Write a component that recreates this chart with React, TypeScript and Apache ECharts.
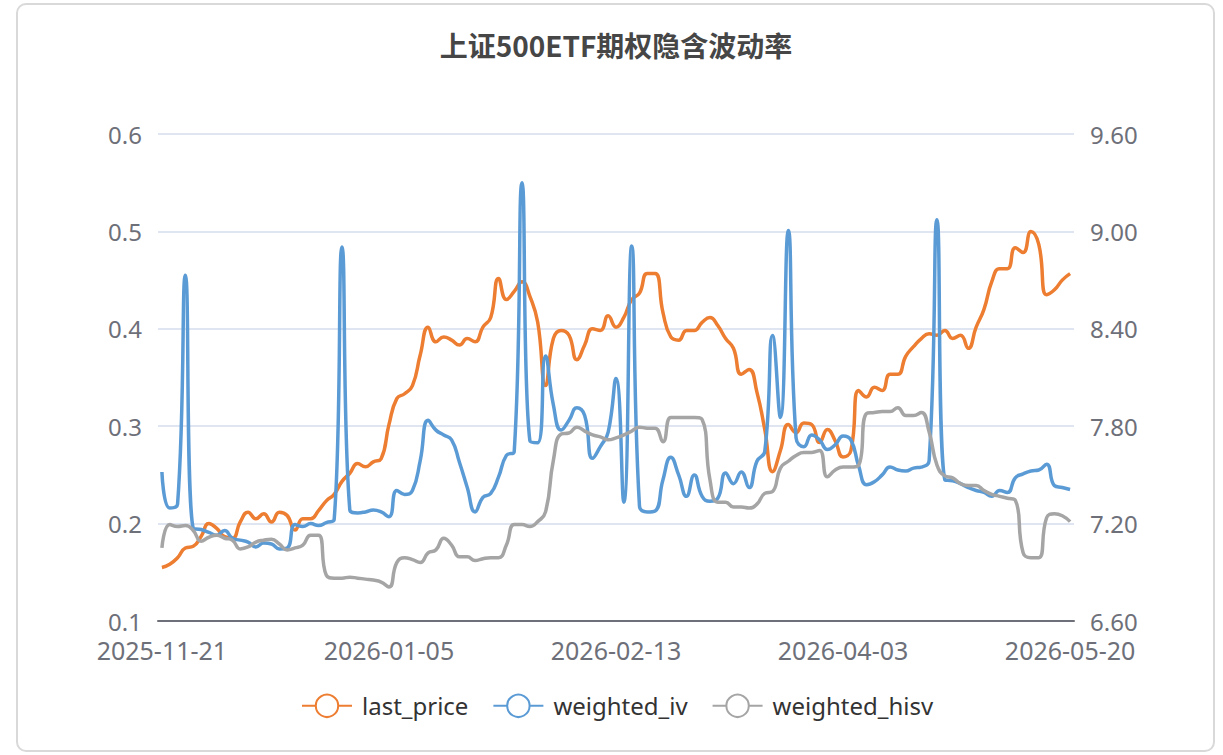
import React, { useEffect, useRef } from "react";
import * as echarts from "echarts";

const dates: string[] = [
  "2025-11-21", "2025-11-24", "2025-11-25", "2025-11-26", "2025-11-27", "2025-11-28",
  "2025-12-01", "2025-12-02", "2025-12-03", "2025-12-04", "2025-12-05",
  "2025-12-08", "2025-12-09", "2025-12-10", "2025-12-11", "2025-12-12",
  "2025-12-15", "2025-12-16", "2025-12-17", "2025-12-18", "2025-12-19",
  "2025-12-22", "2025-12-23", "2025-12-24", "2025-12-25", "2025-12-26",
  "2025-12-29", "2025-12-30", "2025-12-31",
  "2026-01-05", "2026-01-06", "2026-01-07", "2026-01-08", "2026-01-09",
  "2026-01-12", "2026-01-13", "2026-01-14", "2026-01-15", "2026-01-16",
  "2026-01-19", "2026-01-20", "2026-01-21", "2026-01-22", "2026-01-23",
  "2026-01-26", "2026-01-27", "2026-01-28", "2026-01-29", "2026-01-30",
  "2026-02-02", "2026-02-03", "2026-02-04", "2026-02-05", "2026-02-06",
  "2026-02-09", "2026-02-10", "2026-02-11", "2026-02-12", "2026-02-13",
  "2026-02-24", "2026-02-25", "2026-02-26", "2026-02-27",
  "2026-03-02", "2026-03-03", "2026-03-04", "2026-03-05", "2026-03-06",
  "2026-03-09", "2026-03-10", "2026-03-11", "2026-03-12", "2026-03-13",
  "2026-03-16", "2026-03-17", "2026-03-18", "2026-03-19", "2026-03-20",
  "2026-03-23", "2026-03-24", "2026-03-25", "2026-03-26", "2026-03-27",
  "2026-03-30", "2026-03-31", "2026-04-01", "2026-04-02", "2026-04-03",
  "2026-04-07", "2026-04-08", "2026-04-09", "2026-04-10",
  "2026-04-13", "2026-04-14", "2026-04-15", "2026-04-16", "2026-04-17",
  "2026-04-20", "2026-04-21", "2026-04-22", "2026-04-23", "2026-04-24",
  "2026-04-27", "2026-04-28", "2026-04-29", "2026-04-30",
  "2026-05-06", "2026-05-07", "2026-05-08",
  "2026-05-11", "2026-05-12", "2026-05-13", "2026-05-14", "2026-05-15",
  "2026-05-18", "2026-05-19", "2026-05-20",
];

const lastPrice: number[] = [
  6.93, 6.95, 6.99, 7.05, 7.06, 7.12, 7.2, 7.17, 7.12, 7.11,
  7.21, 7.27, 7.23, 7.26, 7.21, 7.27, 7.25, 7.16, 7.23, 7.23,
  7.28, 7.34, 7.38, 7.46, 7.51, 7.57, 7.55, 7.58, 7.6, 7.81,
  7.97, 8.0, 8.05, 8.24, 8.41, 8.32, 8.35, 8.33, 8.3, 8.34,
  8.32, 8.41, 8.47, 8.71, 8.58, 8.63, 8.69, 8.6, 8.44, 8.05,
  8.34, 8.39, 8.36, 8.21, 8.3, 8.4, 8.39, 8.48, 8.41, 8.47,
  8.58, 8.62, 8.74, 8.74, 8.5, 8.35, 8.33, 8.39, 8.39, 8.44,
  8.47, 8.42, 8.34, 8.28, 8.12, 8.15, 8.01, 7.78, 7.52, 7.65,
  7.81, 7.76, 7.82, 7.81, 7.7, 7.78, 7.71, 7.61, 7.65, 8.02,
  7.98, 8.04, 8.02, 8.12, 8.12, 8.23, 8.29, 8.34, 8.37, 8.36,
  8.39, 8.34, 8.36, 8.28, 8.41, 8.52, 8.69, 8.77, 8.77, 8.9,
  8.87, 9.0, 8.92, 8.61, 8.64, 8.7, 8.74,
];

const weightedIv: number[] = [
  0.253, 0.216, 0.22, 0.455, 0.195, 0.194, 0.191, 0.188, 0.193, 0.185,
  0.183, 0.181, 0.176, 0.18, 0.179, 0.174, 0.175, 0.199, 0.197, 0.2,
  0.198, 0.201, 0.204, 0.484, 0.214, 0.211, 0.212, 0.214, 0.212, 0.207,
  0.234, 0.23, 0.234, 0.265, 0.306, 0.296, 0.291, 0.286, 0.263, 0.237,
  0.212, 0.227, 0.231, 0.248, 0.27, 0.274, 0.55, 0.285, 0.283, 0.372,
  0.322, 0.296, 0.306, 0.319, 0.311, 0.267, 0.279, 0.294, 0.349, 0.222,
  0.485, 0.218, 0.212, 0.213, 0.245, 0.268, 0.25, 0.228, 0.25, 0.228,
  0.223, 0.226, 0.252, 0.241, 0.253, 0.237, 0.264, 0.274, 0.393, 0.309,
  0.501, 0.288, 0.279, 0.291, 0.286, 0.276, 0.281, 0.29, 0.286, 0.259,
  0.24, 0.243, 0.25, 0.258, 0.255, 0.254, 0.257, 0.258, 0.265, 0.512,
  0.245, 0.244, 0.241, 0.237, 0.234, 0.232, 0.228, 0.234, 0.232, 0.247,
  0.251, 0.254, 0.255, 0.261, 0.239, 0.237, 0.235,
];

const weightedHisv: number[] = [
  0.175, 0.199, 0.197, 0.198, 0.193, 0.182, 0.186, 0.188, 0.185, 0.183,
  0.174, 0.176, 0.181, 0.183, 0.184, 0.179, 0.173, 0.175, 0.178, 0.188,
  0.188, 0.147, 0.144, 0.144, 0.145, 0.144, 0.143, 0.142, 0.14, 0.135,
  0.16, 0.165, 0.163, 0.16, 0.17, 0.173, 0.185, 0.178, 0.166, 0.166,
  0.162, 0.164, 0.165, 0.165, 0.178, 0.199, 0.199, 0.197, 0.202, 0.212,
  0.265, 0.292, 0.293, 0.299, 0.295, 0.291, 0.289, 0.286, 0.288, 0.291,
  0.295, 0.299, 0.298, 0.298, 0.284, 0.309, 0.309, 0.309, 0.309, 0.307,
  0.245, 0.222, 0.222, 0.217, 0.217, 0.216, 0.22, 0.231, 0.233, 0.257,
  0.264, 0.27, 0.273, 0.273, 0.275, 0.248, 0.255, 0.258, 0.258, 0.26,
  0.313, 0.314, 0.315, 0.315, 0.319, 0.311, 0.311, 0.314, 0.294, 0.26,
  0.249, 0.247, 0.241, 0.239, 0.239, 0.234, 0.23, 0.228, 0.226, 0.224,
  0.17, 0.165, 0.165, 0.206, 0.21, 0.208, 0.202,
];

const leftTicks = { min: 0.1, max: 0.6, interval: 0.1 };
const rightTicks = { min: 6.6, max: 9.6, interval: 0.6 };

const COLORS = ["#ED7D31", "#5B9BD5", "#A5A5A5"];
const FONT = "'Noto Sans', 'Noto Sans CJK SC', sans-serif";

export default function App() {
  const ref = useRef<HTMLDivElement>(null);

  useEffect(() => {
    if (!ref.current) return;
    const chart = echarts.init(ref.current, undefined, { renderer: "svg" });
    const yLabel = { color: "#6E7079", fontSize: 24, fontFamily: FONT };
    chart.setOption({
      animation: false,
      color: COLORS,
      title: {
        text: "上证500ETF期权隐含波动率",
        left: 616,
        top: 31,
        textAlign: "center",
        padding: 0,
        textStyle: {
          fontSize: 28,
          fontWeight: "bold",
          color: "#464646",
          fontFamily: "'Noto Sans CJK SC', sans-serif",
        },
      },
      legend: {
        bottom: 32,
        left: 296,
        orient: "horizontal",
        itemWidth: 50,
        itemHeight: 28,
        itemGap: 24,
        textStyle: {
          fontSize: 24,
          color: "#333",
          fontFamily: FONT,
          padding: [0, 0, 0, 5],
        },
        data: ["last_price", "weighted_iv", "weighted_hisv"],
      },
      grid: { left: 158, right: 149, top: 134, bottom: 134 },
      xAxis: {
        type: "category",
        data: dates,
        axisLine: { lineStyle: { color: "#6E7079", width: 2 } },
        axisTick: { length: 10, lineStyle: { width: 2 }, interval: 28 },
        axisLabel: {
          color: "#6E7079",
          fontSize: 25,
          fontFamily: FONT,
          interval: 28,
          margin: 16,
        },
      },
      yAxis: [
        {
          type: "value",
          ...leftTicks,
          axisLabel: { ...yLabel, margin: 16 },
          splitLine: { lineStyle: { color: "#E0E6F1", width: 2 } },
        },
        {
          type: "value",
          ...rightTicks,
          axisLabel: {
            ...yLabel,
            margin: 16,
            formatter: (v: number) => v.toFixed(2),
          },
          splitLine: { show: false },
        },
      ],
      series: [
        {
          name: "last_price",
          type: "line",
          yAxisIndex: 1,
          data: lastPrice,
          smooth: true,
          showSymbol: false,
          symbol: "emptyCircle",
          symbolSize: 8,
          lineStyle: { width: 3.5 },
        },
        {
          name: "weighted_iv",
          type: "line",
          yAxisIndex: 0,
          data: weightedIv,
          smooth: true,
          showSymbol: false,
          symbol: "emptyCircle",
          symbolSize: 8,
          lineStyle: { width: 3.5 },
        },
        {
          name: "weighted_hisv",
          type: "line",
          yAxisIndex: 0,
          data: weightedHisv,
          smooth: true,
          showSymbol: false,
          symbol: "emptyCircle",
          symbolSize: 8,
          lineStyle: { width: 3.5 },
        },
      ],
    });
    return () => chart.dispose();
  }, []);

  return (
    <div
      style={{
        position: "fixed",
        left: 0,
        top: 0,
        width: 1223,
        height: 755,
        background: "#fff",
      }}
    >
      <div
        style={{
          position: "absolute",
          left: 16,
          top: 3,
          width: 1199,
          height: 749,
          boxSizing: "border-box",
          border: "2px solid #d9d9d9",
          borderRadius: 10,
        }}
      />
      <div
        ref={ref}
        style={{ position: "absolute", left: 0, top: 0, width: 1223, height: 755 }}
      />
    </div>
  );
}
